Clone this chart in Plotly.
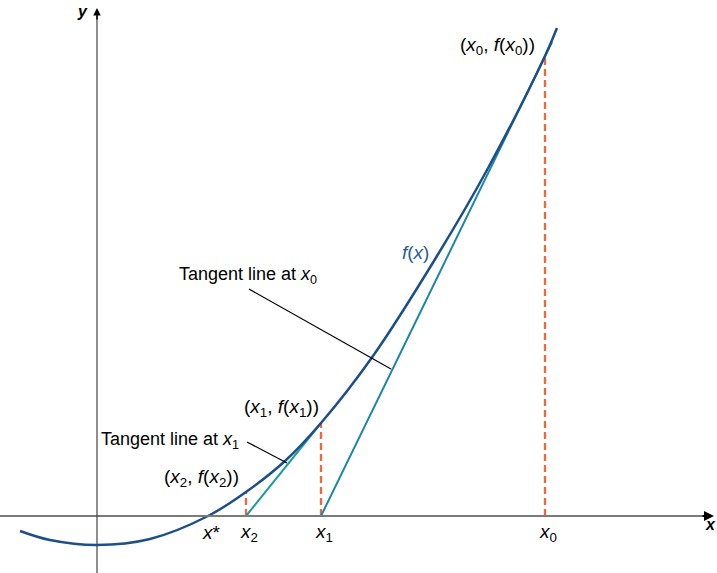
import plotly.graph_objects as go

# curve f(x) (y-axis at x=0, x-axis at y=0)
curve_x = [-0.77, -0.47, 0.0, 0.53, 1.11, 1.49, 1.88, 2.24, 2.76, 3.40, 3.90, 4.48, 4.60]
curve_y = [-0.15, -0.24, -0.29, -0.23, 0.0, 0.24, 0.55, 0.93, 1.60, 2.60, 3.46, 4.60, 4.88]

# Newton iterates and their function values
x_star = 1.11
x0, fx0 = 4.48, 4.60
x1, fx1 = 2.24, 0.93
x2, fx2 = 1.49, 0.24

# tangent at x0 runs from (x1, 0) up past (x0, f(x0)); tangent at x1 from (x2, 0) to (x1, f(x1))
tan0_x = [x1, 4.55]
tan0_y = [0.0, 4.74]
tan1_x = [x2, x1]
tan1_y = [0.0, fx1]

BLUE = "#1d4f8b"
TEAL0 = "#1b86a8"
TEAL1 = "#1f9c9c"
ORANGE = "#f0683a"
FONT = "Liberation Sans, Arial, sans-serif"

fig = go.Figure()

# dashed drops to the x-axis
for xv, fv in [(x0, fx0), (x1, fx1), (x2, fx2)]:
    fig.add_trace(go.Scatter(x=[xv, xv], y=[0, fv], mode="lines",
                             line=dict(color=ORANGE, width=2.3, dash="7px,4px"),
                             hoverinfo="skip", showlegend=False))

fig.add_trace(go.Scatter(x=tan0_x, y=tan0_y, mode="lines",
                         line=dict(color=TEAL0, width=2), showlegend=False))
fig.add_trace(go.Scatter(x=tan1_x, y=tan1_y, mode="lines",
                         line=dict(color=TEAL1, width=2), showlegend=False))
fig.add_trace(go.Scatter(x=curve_x, y=curve_y, mode="lines", line_shape="spline",
                         line=dict(color=BLUE, width=2.5), showlegend=False))

# axes drawn by hand, with arrow heads
fig.add_shape(type="line", x0=-0.97, y0=0, x1=6.06, y1=0,
              line=dict(color="#7a7a7a", width=2))
fig.add_shape(type="line", x0=0, y0=-0.6, x1=0, y1=5.0,
              line=dict(color="#444444", width=1.2))
fig.add_annotation(x=6.17, y=0, ax=6.04, ay=0, xref="x", yref="y", axref="x", ayref="y",
                   text="", showarrow=True, arrowhead=2, arrowsize=1, arrowwidth=2,
                   arrowcolor="black")
fig.add_annotation(x=0, y=5.08, ax=0, ay=4.95, xref="x", yref="y", axref="x", ayref="y",
                   text="", showarrow=True, arrowhead=2, arrowsize=1, arrowwidth=1.5,
                   arrowcolor="black")

# leader lines for the tangent labels
fig.add_shape(type="line", x0=1.52, y0=2.27, x1=2.94, y1=1.47,
              line=dict(color="black", width=1.2))
fig.add_shape(type="line", x0=1.50, y0=0.74, x1=1.90, y1=0.53,
              line=dict(color="black", width=1.2))


def label(txt, x, y, xanchor="center", color="black", size=18):
    fig.add_annotation(x=x, y=y, xref="x", yref="y", text=txt, showarrow=False,
                       xanchor=xanchor, yanchor="middle",
                       font=dict(family=FONT, size=size, color=color))


label("<b><i>x</i></b>", 6.13, -0.08, size=16)
label("<b><i>y</i></b>", -0.15, 5.05, size=16)

label("(<i>x</i><sub>0</sub>, <i>f</i>(<i>x</i><sub>0</sub>))", 4.00, 4.70, size=19)
label("<i>f</i>(<i>x</i>)", 3.18, 2.64, color="#2b5c93", size=19)
label("Tangent line at <i>x</i><sub>0</sub>", 0.80, 2.41, xanchor="left")
label("(<i>x</i><sub>1</sub>, <i>f</i>(<i>x</i><sub>1</sub>))", 1.45, 1.08, xanchor="left", size=19)
label("Tangent line at <i>x</i><sub>1</sub>", 0.02, 0.76, xanchor="left")
label("(<i>x</i><sub>2</sub>, <i>f</i>(<i>x</i><sub>2</sub>))", 0.65, 0.38, xanchor="left", size=19)

label("<i>x</i>*", x_star + 0.03, -0.16, size=19)
label("<i>x</i><sub>2</sub>", x2 + 0.03, -0.17, size=19)
label("<i>x</i><sub>1</sub>", x1 + 0.03, -0.17, size=19)
label("<i>x</i><sub>0</sub>", x0 + 0.03, -0.17, size=19)

fig.update_layout(
    width=717, height=573,
    margin=dict(l=0, r=0, t=0, b=0),
    paper_bgcolor="white", plot_bgcolor="white",
    xaxis=dict(range=[-0.97, 6.20], visible=False, fixedrange=True),
    yaxis=dict(range=[-0.57, 5.16], visible=False, fixedrange=True),
    showlegend=False,
)

fig.write_html("out.html", config={"displayModeBar": False},
               post_script="document.body.style.margin='0';")
